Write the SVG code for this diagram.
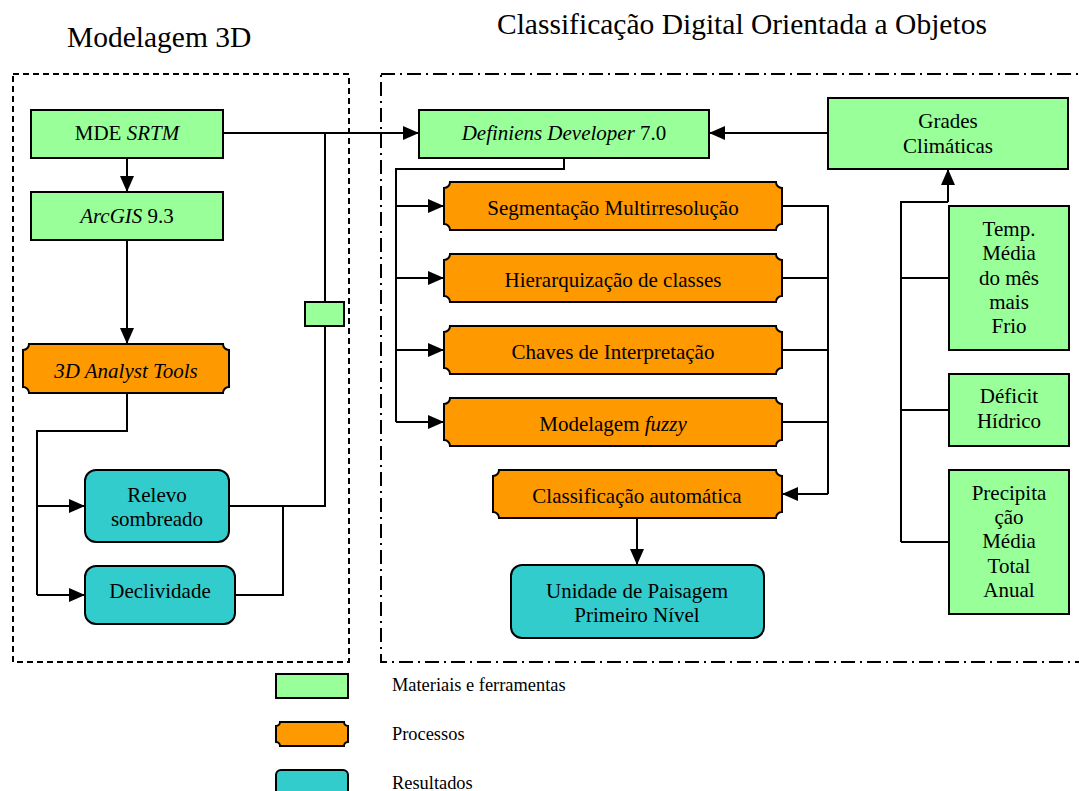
<svg xmlns="http://www.w3.org/2000/svg" width="1079" height="791" viewBox="0 0 1079 791">
<defs>
<style>
text{font-family:"Liberation Serif","Times New Roman",serif;fill:#000;}
.t{font-size:21px;text-anchor:middle;}
.title{font-size:29.5px;}
.leg{font-size:18.4px;}
.mat{fill:#99FF99;stroke:#000;stroke-width:2;}
.proc{fill:#FF9900;stroke:#000;stroke-width:2;}
.res{fill:#33CCCC;stroke:#000;stroke-width:2;}
.c{fill:none;stroke:#000;stroke-width:2;}
.ca{fill:none;stroke:#000;stroke-width:2;marker-end:url(#ah);}
</style>
<marker id="ah" markerUnits="userSpaceOnUse" markerWidth="16" markerHeight="14" viewBox="0 0 16 14" refX="16" refY="7" orient="auto">
<path d="M0,0 L16,7 L0,14 Z" fill="#000"/>
</marker>
</defs>
<rect width="1079" height="791" fill="#fff"/>

<text class="title" x="67" y="47">Modelagem 3D</text>
<text class="title" x="497" y="34">Classificação Digital Orientada a Objetos</text>

<rect x="13" y="74" width="336" height="588" fill="none" stroke="#000" stroke-width="2" stroke-dasharray="6,4"/>
<rect x="381" y="74" width="710" height="588" fill="none" stroke="#000" stroke-width="2" stroke-dasharray="14,5,2,5"/>

<g id="connectors">
<line class="c" x1="223" y1="133" x2="325" y2="133"/>
<line class="ca" x1="325" y1="133" x2="419" y2="133"/>
<line class="ca" x1="127" y1="158" x2="127" y2="192"/>
<line class="ca" x1="127" y1="240" x2="127" y2="344"/>
<polyline class="c" points="127,393 127,431 37,431 37,595"/>
<line class="ca" x1="37" y1="506" x2="85" y2="506"/>
<line class="ca" x1="37" y1="595" x2="85" y2="595"/>
<polyline class="c" points="229,506 325,506 325,133"/>
<polyline class="c" points="235,595 283,595 283,506"/>
<polyline class="c" points="564,158 564,169 396,169 396,422"/>
<line class="ca" x1="396" y1="206" x2="444" y2="206"/>
<line class="ca" x1="396" y1="278" x2="444" y2="278"/>
<line class="ca" x1="396" y1="350" x2="444" y2="350"/>
<line class="ca" x1="396" y1="422" x2="444" y2="422"/>
<polyline class="c" points="782,206 828,206 828,494"/>
<line class="c" x1="782" y1="278" x2="828" y2="278"/>
<line class="c" x1="782" y1="350" x2="828" y2="350"/>
<line class="c" x1="782" y1="422" x2="828" y2="422"/>
<line class="ca" x1="828" y1="494" x2="782" y2="494"/>
<line class="ca" x1="828" y1="133" x2="709" y2="133"/>
<line class="ca" x1="637" y1="518" x2="637" y2="565"/>
<polyline class="c" points="901,542 901,202 948,202"/>
<line class="ca" x1="948" y1="202" x2="948" y2="169"/>
<line class="c" x1="901" y1="278" x2="949" y2="278"/>
<line class="c" x1="901" y1="410" x2="949" y2="410"/>
<line class="c" x1="901" y1="542" x2="949" y2="542"/>
</g>

<g id="mde-srtm">
<rect class="mat" x="31" y="110" width="192" height="48"/>
<text class="t" x="127" y="140">MDE <tspan font-style="italic">SRTM</tspan></text>
</g>
<g id="arcgis">
<rect class="mat" x="31" y="192" width="192" height="48"/>
<text class="t" x="127" y="223"><tspan font-style="italic">ArcGIS</tspan> 9.3</text>
</g>
<g id="mini-box">
<rect class="mat" x="305" y="302" width="39" height="24"/>
</g>
<g id="analyst-tools">
<path class="proc" d="M29,344 H223 A6,6 0 0 0 229,350 V387 A6,6 0 0 0 223,393 H29 A6,6 0 0 0 23,387 V350 A6,6 0 0 0 29,344 Z"/>
<text class="t" x="126" y="378" font-style="italic">3D Analyst Tools</text>
</g>
<g id="relevo">
<rect class="res" x="85" y="470" width="144" height="72" rx="11"/>
<text class="t" x="157" y="502">Relevo</text>
<text class="t" x="157" y="526">sombreado</text>
</g>
<g id="declividade">
<rect class="res" x="85" y="566" width="150" height="58" rx="11"/>
<text class="t" x="160" y="598">Declividade</text>
</g>

<g id="definiens">
<rect class="mat" x="419" y="110" width="290" height="48"/>
<text class="t" x="564" y="140"><tspan font-style="italic">Definiens Developer</tspan> 7.0</text>
</g>
<g id="segmentacao">
<path class="proc" d="M450,182 H776 A6,6 0 0 0 782,188 V224 A6,6 0 0 0 776,230 H450 A6,6 0 0 0 444,224 V188 A6,6 0 0 0 450,182 Z"/>
<text class="t" x="613" y="215">Segmentação Multirresolução</text>
</g>
<g id="hierarquizacao">
<path class="proc" d="M450,254 H776 A6,6 0 0 0 782,260 V296 A6,6 0 0 0 776,302 H450 A6,6 0 0 0 444,296 V260 A6,6 0 0 0 450,254 Z"/>
<text class="t" x="613" y="287">Hierarquização de classes</text>
</g>
<g id="chaves">
<path class="proc" d="M450,326 H776 A6,6 0 0 0 782,332 V368 A6,6 0 0 0 776,374 H450 A6,6 0 0 0 444,368 V332 A6,6 0 0 0 450,326 Z"/>
<text class="t" x="613" y="359">Chaves de Interpretação</text>
</g>
<g id="modelagem-fuzzy">
<path class="proc" d="M450,398 H776 A6,6 0 0 0 782,404 V440 A6,6 0 0 0 776,446 H450 A6,6 0 0 0 444,440 V404 A6,6 0 0 0 450,398 Z"/>
<text class="t" x="613" y="431">Modelagem <tspan font-style="italic">fuzzy</tspan></text>
</g>
<g id="classificacao">
<path class="proc" d="M499,470 H776 A6,6 0 0 0 782,476 V512 A6,6 0 0 0 776,518 H499 A6,6 0 0 0 493,512 V476 A6,6 0 0 0 499,470 Z"/>
<text class="t" x="637" y="503">Classificação automática</text>
</g>
<g id="unidade">
<rect class="res" x="511" y="565" width="253" height="73" rx="11"/>
<text class="t" x="637" y="598">Unidade de Paisagem</text>
<text class="t" x="637" y="622">Primeiro Nível</text>
</g>
<g id="grades">
<rect class="mat" x="828" y="98" width="240" height="71"/>
<text class="t" x="948" y="128">Grades</text>
<text class="t" x="948" y="153">Climáticas</text>
</g>
<g id="temp">
<rect class="mat" x="949" y="206" width="120" height="144"/>
<text class="t" x="1009" y="236">Temp.</text>
<text class="t" x="1009" y="260">Média</text>
<text class="t" x="1009" y="285">do mês</text>
<text class="t" x="1009" y="309">mais</text>
<text class="t" x="1009" y="333">Frio</text>
</g>
<g id="deficit">
<rect class="mat" x="949" y="374" width="120" height="72"/>
<text class="t" x="1009" y="403">Déficit</text>
<text class="t" x="1009" y="428">Hídrico</text>
</g>
<g id="precipitacao">
<rect class="mat" x="949" y="470" width="120" height="144"/>
<text class="t" x="1009" y="500">Precipita</text>
<text class="t" x="1009" y="524">ção</text>
<text class="t" x="1009" y="548">Média</text>
<text class="t" x="1009" y="573">Total</text>
<text class="t" x="1009" y="597">Anual</text>
</g>

<g id="legend">
<rect class="mat" x="276" y="674" width="72" height="24"/>
<text class="leg" x="392" y="691">Materiais e ferramentas</text>
<path class="proc" d="M280,722 H344 A4,4 0 0 0 348,726 V742 A4,4 0 0 0 344,746 H280 A4,4 0 0 0 276,742 V726 A4,4 0 0 0 280,722 Z"/>
<text class="leg" x="392" y="740">Processos</text>
<rect class="res" x="276" y="770" width="72" height="26" rx="5"/>
<text class="leg" x="392" y="789">Resultados</text>
</g>
</svg>
